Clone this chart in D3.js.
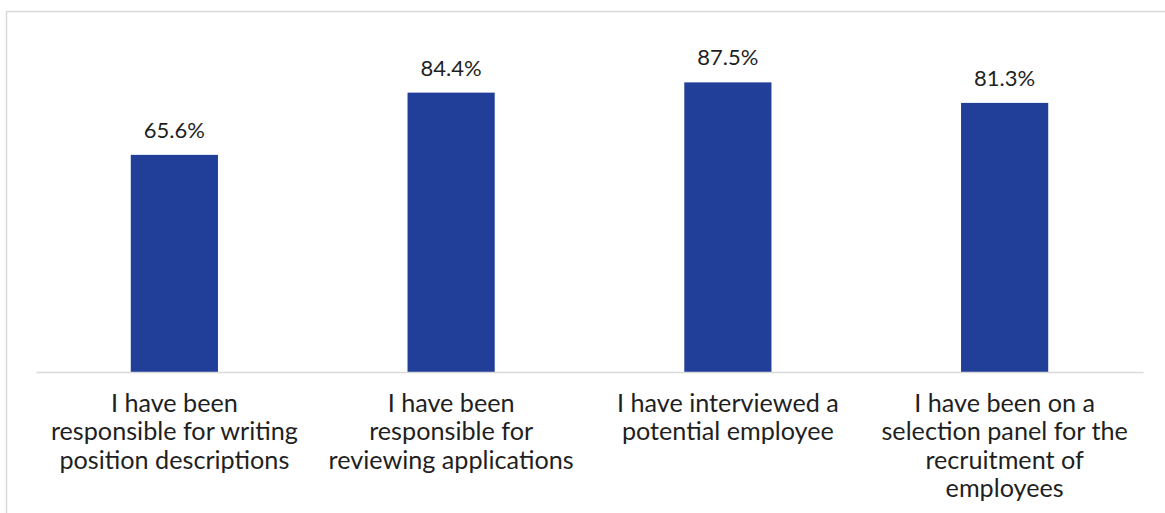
<!DOCTYPE html>
<html>
<head>
<meta charset="utf-8">
<script src="https://cdn.jsdelivr.net/npm/d3@7"></script>
<style>
  html, body { margin: 0; padding: 0; background: #ffffff; }
  svg { display: block; }
  text { font-family: "Lato", "Open Sans", sans-serif; fill: #1f1f1f; }
</style>
</head>
<body>
<svg id="chart" width="1165" height="513"></svg>
<script>
// Share of respondents who have taken part in each recruitment activity (%)
const categories = [
  "I have been responsible for writing position descriptions",
  "I have been responsible for reviewing applications",
  "I have interviewed a potential employee",
  "I have been on a selection panel for the recruitment of employees"
];
const categoryLines = [
  ["I have been", "responsible for writing", "position descriptions"],
  ["I have been", "responsible for", "reviewing applications"],
  ["I have interviewed a", "potential employee"],
  ["I have been on a", "selection panel for the", "recruitment of", "employees"]
];
const values = [65.6, 84.4, 87.5, 81.3];
const valueLabels = ["65.6%", "84.4%", "87.5%", "81.3%"];

const svg = d3.select("#chart");
const W = 1165, H = 513;
const plot = { left: 36, right: 1143, top: 41, bottom: 372 };

svg.append("rect").attr("width", W).attr("height", H).attr("fill", "#ffffff");

// chart area frame (top and left edges)
svg.append("path")
  .attr("d", `M6.5,${H} L6.5,11.5 L${W},11.5`)
  .attr("fill", "none")
  .attr("stroke", "#d9d9d9")
  .attr("stroke-width", 1.5);

const x = d3.scaleBand().domain(categories).range([plot.left, plot.right]).padding(0);
const y = d3.scaleLinear().domain([0, 100]).range([plot.bottom, plot.top]);
const barW = x.bandwidth() * 0.315;

svg.append("g").selectAll("rect")
  .data(categories)
  .join("rect")
  .attr("x", d => x(d) + x.bandwidth() / 2 - barW / 2)
  .attr("y", (d, i) => y(values[i]))
  .attr("width", barW)
  .attr("height", (d, i) => y(0) - y(values[i]))
  .attr("fill", "#213f99");

// category axis
const xAxis = svg.append("g")
  .attr("transform", `translate(0,${plot.bottom})`)
  .call(d3.axisBottom(x).tickSize(0).tickFormat(""));
xAxis.select(".domain").attr("stroke", "#d9d9d9").attr("stroke-width", 1.5);

xAxis.selectAll(".tick").each(function(d, i) {
  const t = d3.select(this).append("text")
    .attr("text-anchor", "middle")
    .attr("font-size", 25.2)
    .attr("fill", "#1f1f1f");
  categoryLines[i].forEach((line, j) => {
    t.append("tspan").attr("x", 0).attr("y", 40 + j * 28.3).text(line);
  });
});

// value labels
svg.append("g").selectAll("text")
  .data(categories)
  .join("text")
  .attr("x", d => x(d) + x.bandwidth() / 2)
  .attr("y", (d, i) => y(values[i]) - 17)
  .attr("text-anchor", "middle")
  .attr("font-size", 22)
  .text((d, i) => valueLabels[i]);
</script>
</body>
</html>
